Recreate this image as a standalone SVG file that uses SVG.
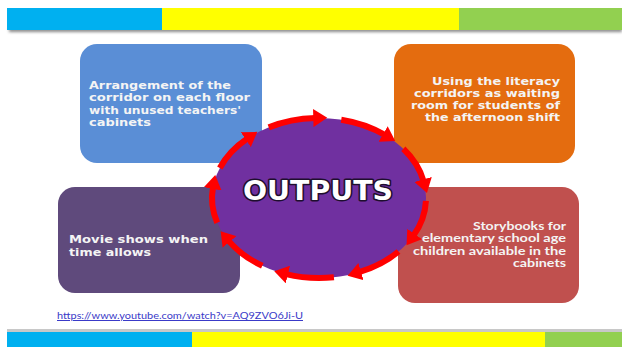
<svg xmlns="http://www.w3.org/2000/svg" width="622" height="347" viewBox="0 0 622 347">
<style>
.box{stroke:none}
.t{font-family:"DejaVu Sans",Verdana,sans-serif;font-weight:bold;font-size:11px;fill:#F4F4F4}
.tc{font-family:Lato,"Liberation Sans",sans-serif;font-weight:bold;font-size:11.5px;fill:#F4F4F4}
.ring{fill:none;stroke:#FF0000;stroke-width:6;marker-end:url(#ah)}
</style>
<defs>
<marker id="ah" markerUnits="userSpaceOnUse" markerWidth="16" markerHeight="18" refX="2" refY="9" orient="auto">
<path d="M0,0 L14,9 L0,18 z" fill="#FF0000"/>
</marker>
<filter id="sh" x="-5%" y="-50%" width="110%" height="300%">
<feGaussianBlur stdDeviation="1.5"/>
</filter>
</defs>
<rect width="622" height="347" fill="#FFFFFF"/>
<g id="top-bar">
<rect x="9" y="28" width="613" height="4" fill="#888888" filter="url(#sh)"/>
<rect x="7" y="8" width="155" height="22" fill="#00B0F0"/>
<rect x="162" y="8" width="297" height="22" fill="#FFFF00"/>
<rect x="459" y="8" width="163" height="22" fill="#92D050"/>
</g>
<g id="bottom-bar">
<rect x="7" y="329" width="615" height="3" fill="#C8C8C8"/>
<rect x="7" y="332" width="185" height="15" fill="#00B0F0"/>
<rect x="192" y="332" width="353" height="15" fill="#FFFF00"/>
<rect x="545" y="332" width="77" height="15" fill="#92D050"/>
</g>
<g id="box-arrangement">
<rect class="box" x="80" y="44" width="182" height="119" rx="17" fill="#5A8ED6"/>
<text class="t" x="89" y="89" textLength="142" lengthAdjust="spacingAndGlyphs">Arrangement of the</text>
<text class="t" x="89" y="101.3" textLength="161" lengthAdjust="spacingAndGlyphs">corridor on each floor</text>
<text class="t" x="89" y="113.6" textLength="152" lengthAdjust="spacingAndGlyphs">with unused teachers'</text>
<text class="t" x="89" y="125.9" textLength="62" lengthAdjust="spacingAndGlyphs">cabinets</text>
</g>
<g id="box-waiting">
<rect class="box" x="394" y="44" width="181" height="119" rx="17" fill="#E46C0F"/>
<text class="t" x="432" y="84.5" textLength="128" lengthAdjust="spacingAndGlyphs">Using the literacy</text>
<text class="t" x="414" y="96.8" textLength="146" lengthAdjust="spacingAndGlyphs">corridors as waiting</text>
<text class="t" x="411" y="109.1" textLength="149" lengthAdjust="spacingAndGlyphs">room for students of</text>
<text class="t" x="425" y="121.4" textLength="135" lengthAdjust="spacingAndGlyphs">the afternoon shift</text>
</g>
<g id="box-movie">
<rect class="box" x="58" y="187" width="182" height="106" rx="17" fill="#5F4A7C"/>
<text class="t" x="69" y="243.3" textLength="139" lengthAdjust="spacingAndGlyphs">Movie shows when</text>
<text class="t" x="69" y="255.6" textLength="82" lengthAdjust="spacingAndGlyphs">time allows</text>
</g>
<g id="box-storybooks">
<rect class="box" x="398" y="187" width="181" height="116" rx="17" fill="#C0504E"/>
<text class="tc" x="473" y="230" textLength="93" lengthAdjust="spacingAndGlyphs">Storybooks for</text>
<text class="tc" x="422" y="242.3" textLength="144" lengthAdjust="spacingAndGlyphs">elementary school age</text>
<text class="tc" x="413" y="254.6" textLength="153" lengthAdjust="spacingAndGlyphs">children available in the</text>
<text class="tc" x="513" y="266.9" textLength="53" lengthAdjust="spacingAndGlyphs">cabinets</text>
</g>
<g id="outputs">
<ellipse cx="319" cy="198" rx="107" ry="80" fill="#7030A0"/>
<text x="318" y="200" text-anchor="middle" textLength="150" lengthAdjust="spacingAndGlyphs" font-family="DejaVu Sans,Verdana,sans-serif" font-weight="bold" font-size="26" fill="#FFFFFF" stroke="#1E0E2E" stroke-width="3" paint-order="stroke" stroke-linejoin="round">OUTPUTS</text>
</g>
<g id="connectors">
<path class="ring" d="M425.93,200.79 A107,80 0 0 1 413.47,235.56"/>
<path class="ring" d="M398.51,251.53 A107,80 0 0 1 359.08,272.18"/>
<path class="ring" d="M333.89,277.22 A107,80 0 0 1 285.94,274.09"/>
<path class="ring" d="M262.30,265.84 A107,80 0 0 1 228.26,240.39"/>
<path class="ring" d="M217.23,222.72 A107,80 0 0 1 213.04,186.86"/>
<path class="ring" d="M219.79,168.03 A107,80 0 0 1 247.41,138.55"/>
<path class="ring" d="M268.76,127.37 A107,80 0 0 1 315.27,118.05"/>
<path class="ring" d="M341.25,119.75 A107,80 0 0 1 384.88,134.96"/>
<path class="ring" d="M403.32,148.74 A107,80 0 0 1 423.66,181.37"/>
</g>
<g id="link">
<text x="57" y="319" textLength="246" lengthAdjust="spacingAndGlyphs" font-family="Lato,'Liberation Sans',sans-serif" font-size="10" fill="#3A3AC8" text-decoration="underline">https://www.youtube.com/watch?v=AQ9ZVO6Ji-U</text>
</g>
</svg>
